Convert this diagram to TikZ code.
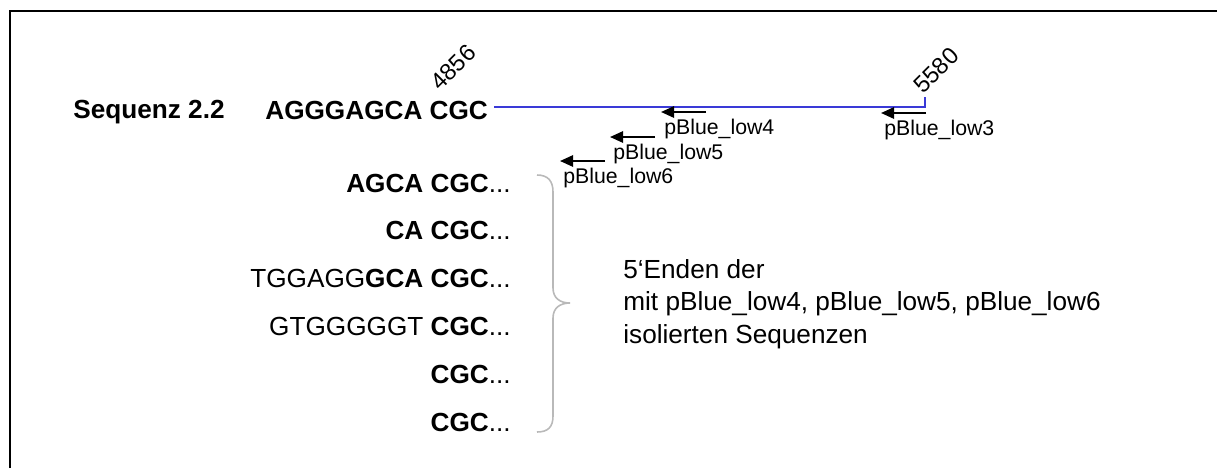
\documentclass[tikz,border=0pt]{standalone}
\usepackage{fontspec}
\setmainfont{Liberation Sans}
\usetikzlibrary{arrows.meta}
\definecolor{seqblue}{RGB}{58,58,215}
\definecolor{bracegray}{RGB}{185,185,185}
\tikzset{
  seqtxt/.style={font=\fontsize{14.9}{18.4}\selectfont, inner sep=0pt},
  lbl/.style={font=\fontsize{12.1}{14}\selectfont, inner sep=0pt, anchor=base west},
  posnum/.style={font=\fontsize{13.4}{15}\selectfont, inner sep=0pt, rotate=45, anchor=base west},
  primer/.style={line width=1.2pt, -{Triangle[length=7.5pt,width=6.5pt]}},
}
\begin{document}
\begin{tikzpicture}[x=0.02cm,y=-0.02cm]
  \useasboundingbox (0,0) rectangle (1217,468);
  % frame
  \draw[line width=1.1pt] (10,468) -- (10,11) -- (1217,11);
  % sequence 2.2 with its blue stretch
  \node[seqtxt, anchor=base west] (title) at (73,118) {\textbf{Sequenz 2.2}};
  \node[seqtxt, anchor=base west] (seq) at (265,119) {\textbf{AGGGAGCA CGC}};
  \coordinate (lnA) at (494,107);
  \coordinate (lnB) at (925,107);
  \coordinate (tick) at (925,97);
  \draw[seqblue, line width=1pt] (lnA) -- (lnB) -- (tick);
  \node[posnum] (p4856) at (440,92) {4856};
  \node[posnum] (p5580) at (923,95) {5580};
  % primers
  \foreach \n/\x/\y in {4/706/112, 3/926/113, 5/655/137, 6/605/161} {
    \coordinate (a\n) at (\x,\y);
    \coordinate (b\n) at (\x-45,\y);
    \draw[primer] (a\n) -- (b\n);
    \node[lbl] (low\n) at (\x-42,\y+22.5) {pBlue\_low\n};
  }
  % isolated 5' ends
  \foreach \n/\y/\s in {1/192/{\textbf{AGCA CGC}...},
                        2/239.8/{\textbf{CA CGC}...},
                        3/287.6/{TGGAGG\textbf{GCA CGC}...},
                        4/335.4/{GTGGGGGT \textbf{CGC}...},
                        5/383.2/{\textbf{CGC}...},
                        6/431/{\textbf{CGC}...}}
    \node[seqtxt, anchor=base east] (r\n) at (511,\y) {\s};
  % brace
  \draw[bracegray, line width=0.9pt] (537,175) .. controls (548,175) and (553,181) .. (553,192)
    -- (553,288) .. controls (553,298) and (560,303) .. (570,303)
    .. controls (560,303) and (553,308) .. (553,318)
    -- (553,416) .. controls (553,427) and (548,432) .. (537,432);
  \node[seqtxt, align=left, anchor=base west] (desc) at (623,343)
    {5‘Enden der\\mit pBlue\_low4, pBlue\_low5, pBlue\_low6\\isolierten Sequenzen};
\end{tikzpicture}
\end{document}
